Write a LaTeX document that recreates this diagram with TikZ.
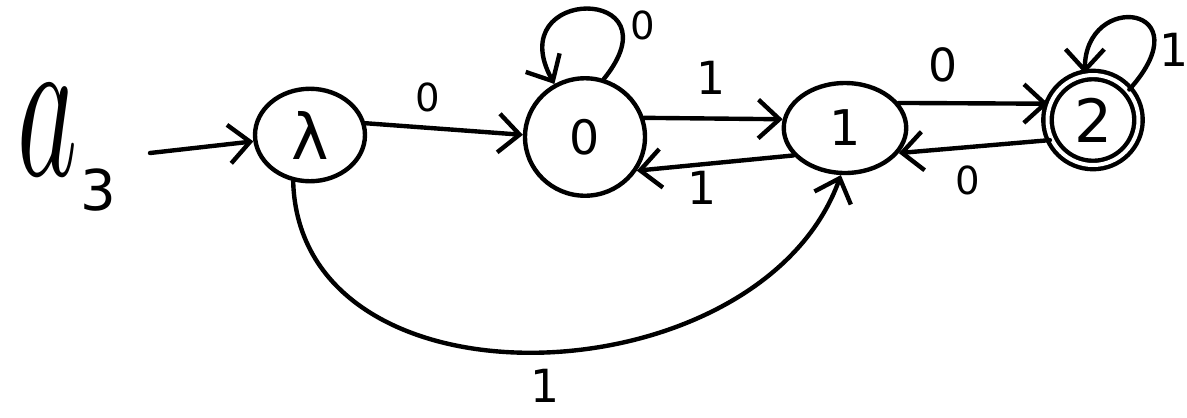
\documentclass[tikz,border=0pt]{standalone}
\usepackage{fontspec}
\setmainfont{DejaVu Sans}
\usetikzlibrary{arrows.meta,shapes.geometric}
\begin{document}
\begin{tikzpicture}[x=0.02cm,y=-0.02cm,
  line width=2.5pt, line cap=round, line join=round,
  st/.style={draw, ellipse, inner sep=0pt},
  arr/.style={-{Straight Barb[length=12pt,width=22pt]}},
  lbl/.style={font=\fontsize{22}{22}\selectfont, inner sep=0pt},
  lblbig/.style={font=\fontsize{26}{26}\selectfont, inner sep=0pt}]
\useasboundingbox (0,0) rectangle (1187,417);
% title
\node[inner sep=0pt] (ta) at (48,130) {\scalebox{6.5}[12]{$a$}};
\node[inner sep=0pt] (tb) at (98,190) {\fontsize{32}{32}\selectfont 3};
% states
\node[st, minimum width=2.2cm, minimum height=1.85cm, font=\fontsize{36}{36}\selectfont] (lam) at (310,135) {λ};
\node[st, minimum width=2.4cm, minimum height=2.35cm, font=\fontsize{27}{27}\selectfont] (q0) at (585,137) {0};
\node[st, minimum width=2.45cm, minimum height=1.8cm, font=\fontsize{28}{28}\selectfont] (q1) at (845,128) {1};
\node[st, double, double distance=0.08cm, minimum width=1.82cm, minimum height=1.8cm, font=\fontsize{34}{34}\selectfont] (q2) at (1093,120) {2};
% start
\coordinate (s) at (150,153);
\draw[arr] (s) -- (lam);
% transitions
\draw[arr] (lam.12) -- (q0.178);
\draw[arr] (q0.18) -- (q1.172);
\draw[arr] (q1.208) -- (q0.-33);
\draw[arr] (q1.25) -- (q2.160);
\draw[arr] (q2.205) -- (q1.-25);
\draw[arr] (q0.72) .. controls (680,-15) and (500,-15) .. (q0.120);
\draw[arr] (q2.40) .. controls (1205,5) and (1085,-10) .. (q2.100);
\draw[arr] (lam.-110) .. controls (300,420) and (760,400) .. (q1.-95);
% labels
\node[lbl] (e1) at (428,97) {0};
\node[lbl] (e2) at (643,25) {0};
\node[lblbig] (e3) at (711,78) {1};
\node[lblbig] (e4) at (702,188) {1};
\node[lblbig] (e5) at (943,65) {0};
\node[lbl] (e6) at (968,180) {0};
\node[lblbig] (e7) at (1174,50) {1};
\node[lblbig] (e8) at (545,386) {1};
\end{tikzpicture}
\end{document}
